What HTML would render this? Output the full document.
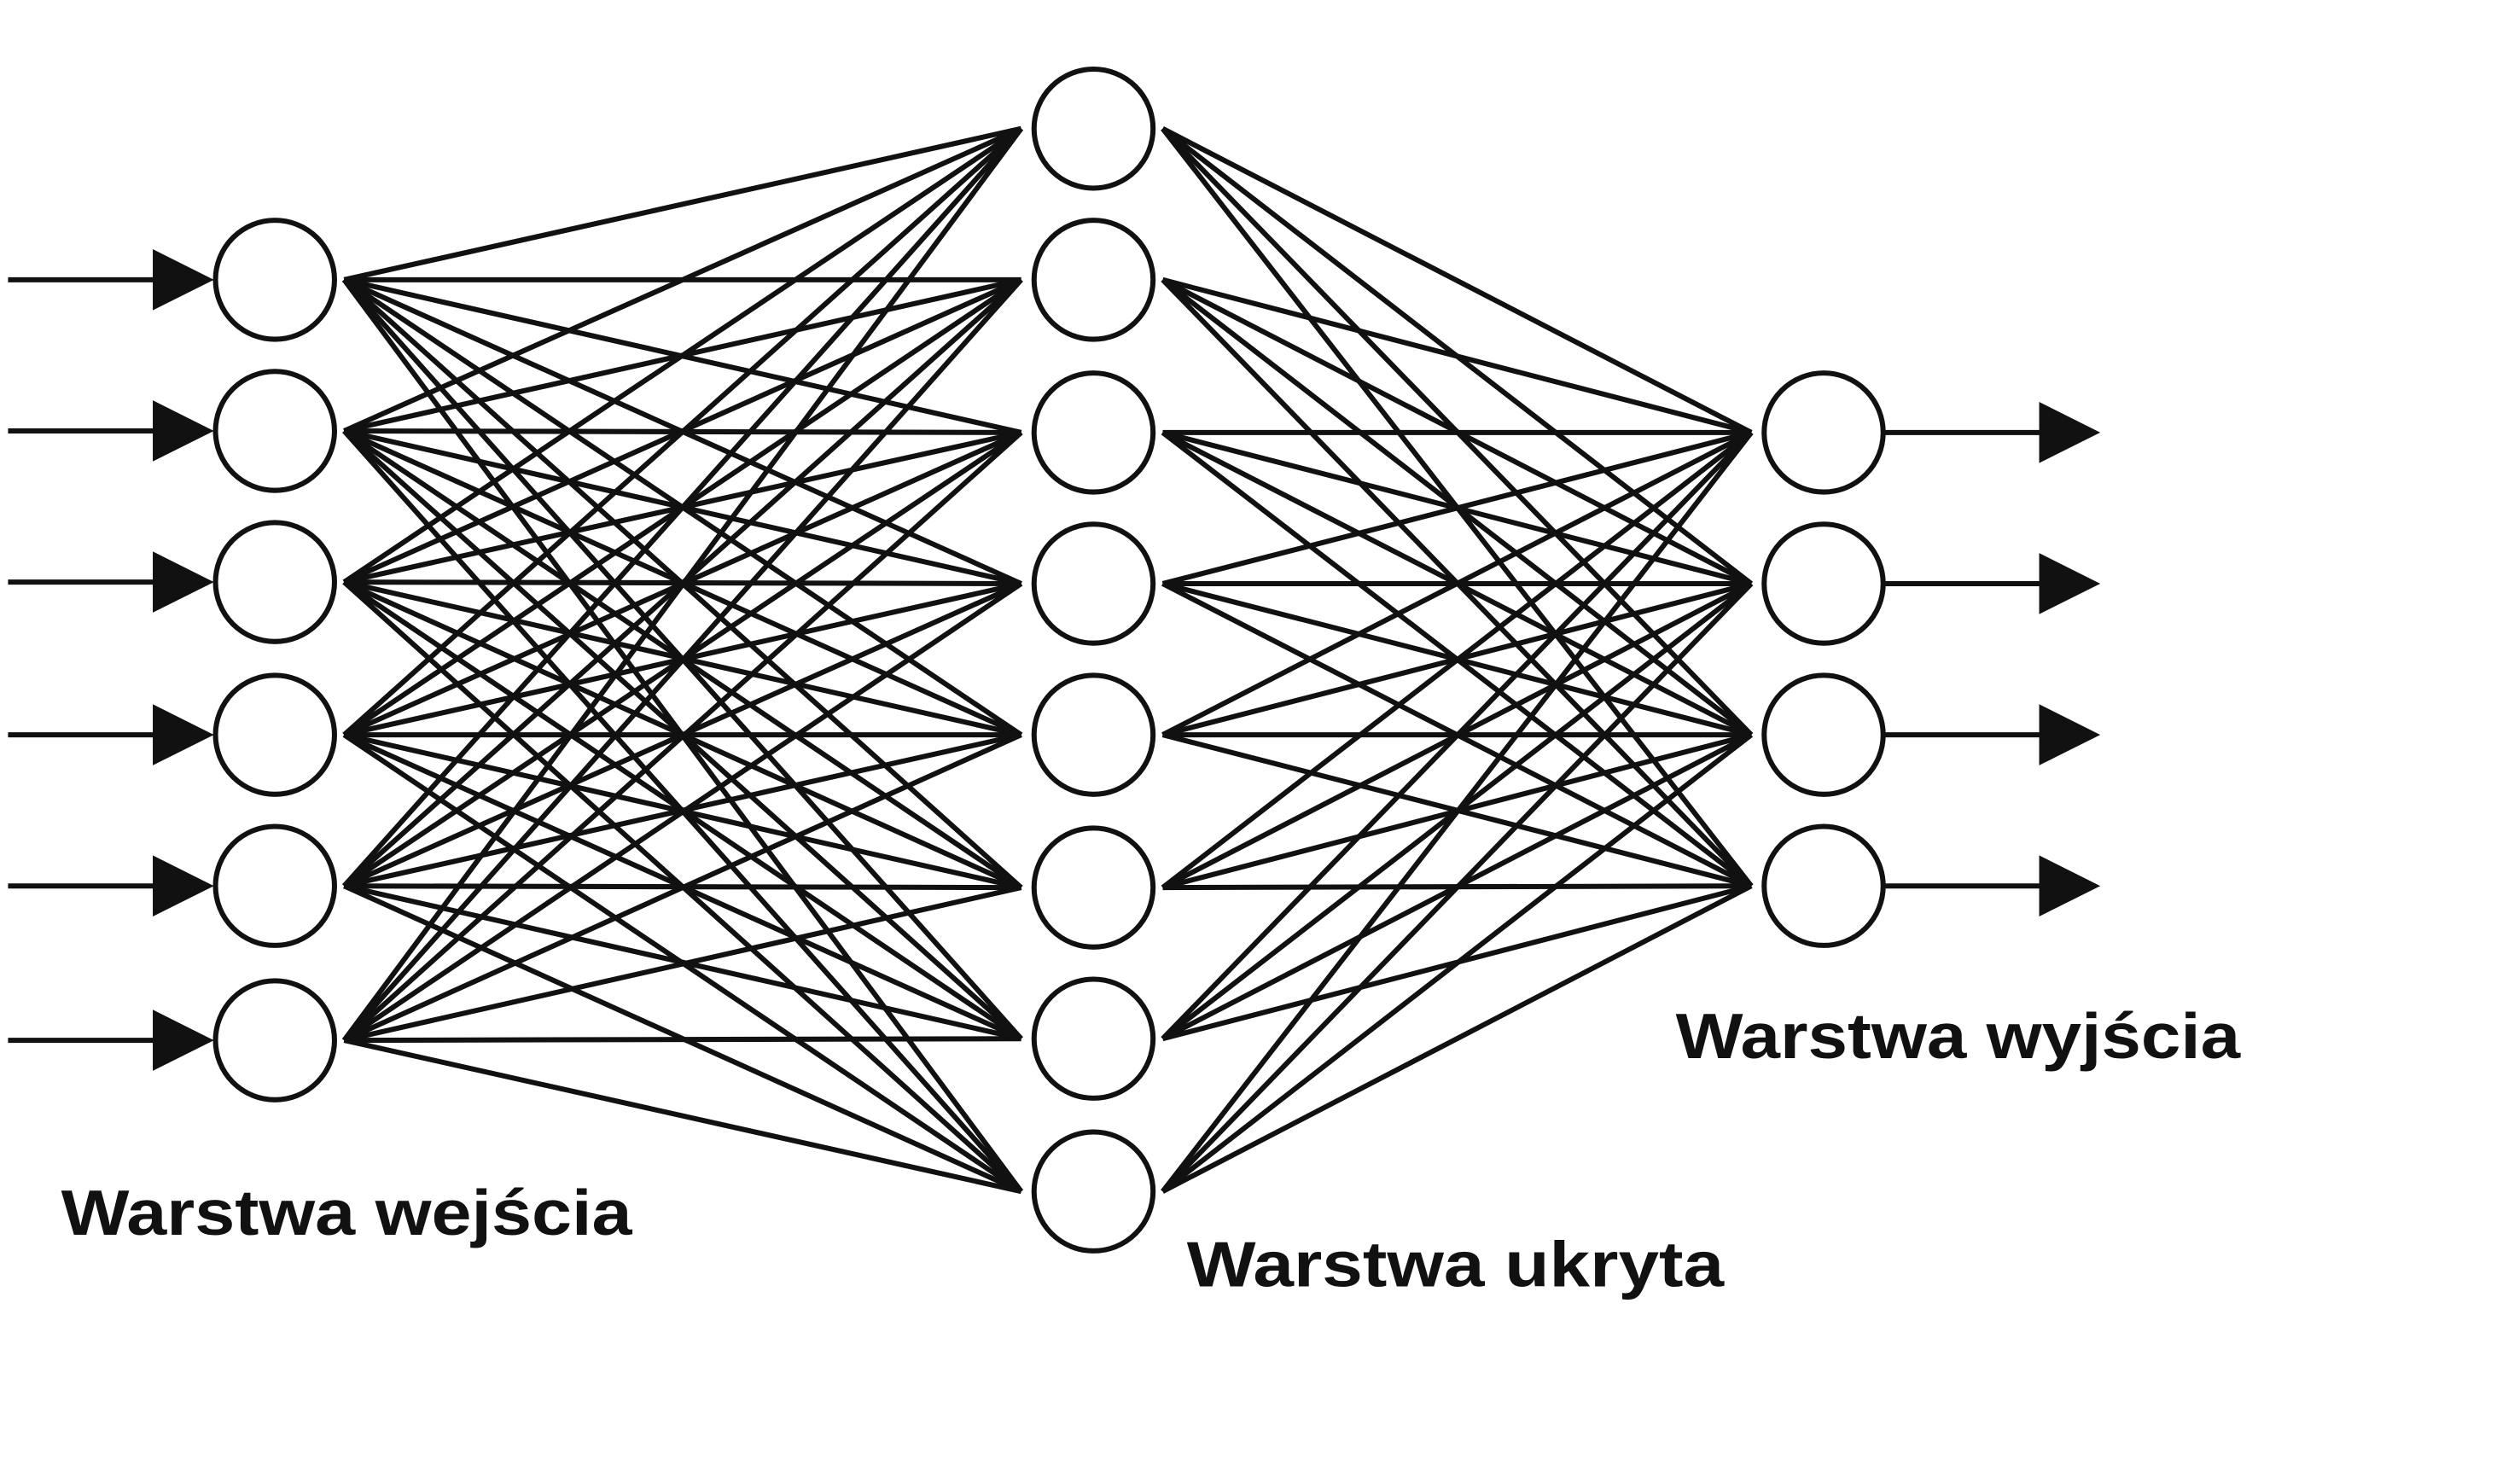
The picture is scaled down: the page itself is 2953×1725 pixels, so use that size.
<!DOCTYPE html>
<html><head><meta charset="utf-8"><style>
html,body{margin:0;padding:0;background:#fff;}
svg{display:block;}
</style></head><body>
<svg id="s" width="2953" height="1725" viewBox="0 0 1567 915.5" preserveAspectRatio="none" xmlns="http://www.w3.org/2000/svg">
<rect width="1567" height="915.5" fill="#fff"/>
<g id="lines" stroke="#111" stroke-width="3.2" fill="none"></g>
<g id="nodes" stroke="#111" stroke-width="3.2" fill="#fff"></g>
<g id="arrows" fill="#111" stroke="#111" stroke-width="3.2"></g>
<g font-family="Liberation Sans, sans-serif" font-weight="bold" font-size="40" fill="#111">
<text x="38" y="768" textLength="355" lengthAdjust="spacingAndGlyphs">Warstwa wejścia</text>
<text x="738" y="800" textLength="334" lengthAdjust="spacingAndGlyphs">Warstwa ukryta</text>
<text x="1042" y="658" textLength="351" lengthAdjust="spacingAndGlyphs">Warstwa wyjścia</text>
</g>
</svg>
<script>
var NS="http://www.w3.org/2000/svg";
var inY=[174,268,362,457,551,647], hY=[80,174,269,363,457,552,646,741], oY=[269,363,457,551];
var ix=171, hx=680, ox=1134, r=37;
var L=document.getElementById("lines"),N=document.getElementById("nodes"),A=document.getElementById("arrows");
function line(g,x1,y1,x2,y2){var l=document.createElementNS(NS,"line");l.setAttribute("x1",x1);l.setAttribute("y1",y1);l.setAttribute("x2",x2);l.setAttribute("y2",y2);g.appendChild(l);}
function circ(x,y){var c=document.createElementNS(NS,"circle");c.setAttribute("cx",x);c.setAttribute("cy",y);c.setAttribute("r",r);N.appendChild(c);}
function poly(p){var q=document.createElementNS(NS,"polygon");q.setAttribute("points",p);q.setAttribute("stroke","none");A.appendChild(q);}
inY.forEach(function(a){hY.forEach(function(b){line(L,ix+r+6,a,hx-r-8,b);});});
hY.forEach(function(a){oY.forEach(function(b){line(L,hx+r+6,a,ox-r-8,b);});});
inY.forEach(function(y){circ(ix,y);line(A,5,y,100,y);poly("95,"+(y-19)+" 133,"+y+" 95,"+(y+19));});
hY.forEach(function(y){circ(hx,y);});
oY.forEach(function(y){circ(ox,y);line(A,ox+r,y,1272,y);poly("1268,"+(y-19)+" 1306,"+y+" 1268,"+(y+19));});
</script>
</body></html>
